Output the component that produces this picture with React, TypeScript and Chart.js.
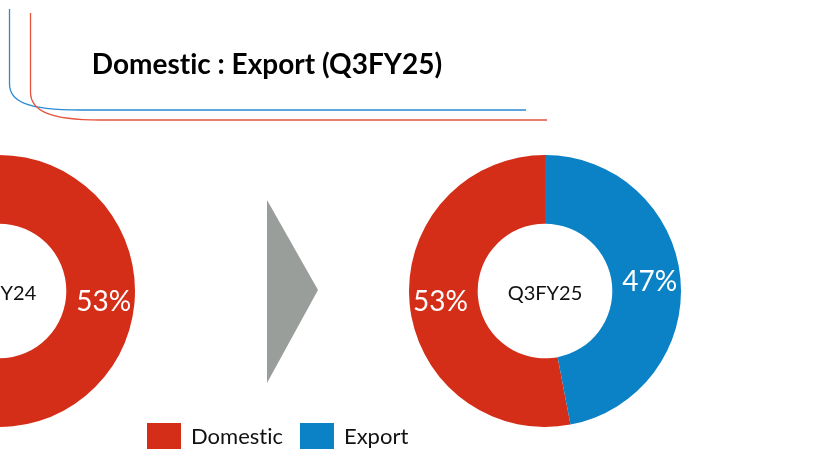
import React, { useEffect, useRef } from "react";
import { Chart, registerables } from "chart.js";

Chart.register(...registerables);

const titleText = "Domestic : Export (Q3FY25)";
const categories = ["Domestic", "Export"];
const periods = ["Q3FY24", "Q3FY25"];
const shareQ3FY24 = [53, 47];
const shareQ3FY25 = [53, 47];
const sliceColors = ["#D52E18", "#0B82C6"];

const FONT = "Lato, 'Open Sans', sans-serif";

function noLigatures(ctx: any) {
  try {
    ctx.textRendering = "optimizeSpeed";
    ctx.fontVariantLigatures = "none";
  } catch (e) {}
}

function labelPlugin(period: string) {
  return {
    id: "labels_" + period,
    afterDatasetsDraw(chart: any) {
      const ctx = chart.ctx;
      const meta = chart.getDatasetMeta(0);
      const ds = chart.data.datasets[0];
      ctx.save();
      noLigatures(ctx);
      meta.data.forEach((arc: any, i: number) => {
        const mid = (arc.startAngle + arc.endAngle) / 2;
        const r = arc.innerRadius + (arc.outerRadius - arc.innerRadius) * 0.55;
        const x = arc.x + Math.cos(mid) * r;
        const y = arc.y + Math.sin(mid) * r;
        ctx.fillStyle = "#ffffff";
        ctx.font = `400 28px ${FONT}`;
        ctx.textAlign = "center";
        ctx.textBaseline = "middle";
        ctx.fillText(ds.data[i] + "%", x, y + 1);
      });
      const a0 = meta.data[0];
      if (a0) {
        ctx.fillStyle = "#111111";
        ctx.font = `400 20px ${FONT}`;
        ctx.textAlign = "center";
        ctx.textBaseline = "middle";
        ctx.fillText(period, a0.x, a0.y + 3);
      }
      ctx.restore();
    },
  };
}

const decorPlugin = {
  id: "decor",
  afterDraw(chart: any) {
    const ctx = chart.ctx;
    ctx.save();
    noLigatures(ctx);
    // decorative title brackets
    ctx.lineWidth = 1.3;
    ctx.strokeStyle = "#2A8BD3";
    ctx.beginPath();
    ctx.moveTo(9.5, 9);
    ctx.lineTo(9.5, 84);
    ctx.bezierCurveTo(9.5, 101, 26, 110, 80, 110);
    ctx.lineTo(526, 110);
    ctx.stroke();
    ctx.strokeStyle = "#E5533F";
    ctx.beginPath();
    ctx.moveTo(30.5, 13);
    ctx.lineTo(30.5, 92);
    ctx.bezierCurveTo(30.5, 111, 50, 120, 100, 120);
    ctx.lineTo(547, 120);
    ctx.stroke();
    // title
    ctx.fillStyle = "#000000";
    ctx.font = `700 28px ${FONT}`;
    ctx.textAlign = "center";
    ctx.textBaseline = "alphabetic";
    ctx.fillText(titleText, 267, 74);
    // arrow
    ctx.fillStyle = "#9A9E9A";
    ctx.beginPath();
    ctx.moveTo(267, 200);
    ctx.lineTo(318, 290);
    ctx.lineTo(267, 383);
    ctx.closePath();
    ctx.fill();
    // legend
    ctx.font = `400 22px ${FONT}`;
    ctx.textAlign = "left";
    ctx.textBaseline = "middle";
    let x = 147;
    const labels = chart.data.labels as string[];
    const colors = chart.data.datasets[0].backgroundColor as string[];
    labels.forEach((lab, i) => {
      ctx.fillStyle = colors[i];
      ctx.fillRect(x, 423, 34, 26);
      ctx.fillStyle = "#111111";
      ctx.fillText(lab, x + 44, 437);
      x += 44 + ctx.measureText(lab).width + 17;
    });
    ctx.restore();
  },
};

function makeDonut(
  canvas: HTMLCanvasElement,
  data: number[],
  period: string,
  padding: { left: number; right: number; top: number; bottom: number },
  rotation: number,
  extra: any[]
) {
  return new Chart(canvas, {
    type: "doughnut",
    data: {
      labels: categories,
      datasets: [
        {
          data,
          backgroundColor: sliceColors,
          borderWidth: 0,
        },
      ],
    },
    options: {
      responsive: false,
      maintainAspectRatio: false,
      animation: false,
      events: [],
      cutout: "49.5%",
      rotation,
      layout: { padding },
      plugins: {
        legend: { display: false },
        tooltip: { enabled: false },
        title: { display: false },
      },
    },
    plugins: [labelPlugin(period), ...extra],
  } as any);
}

export default function App() {
  const leftRef = useRef<HTMLCanvasElement>(null);
  const rightRef = useRef<HTMLCanvasElement>(null);

  useEffect(() => {
    document.body.style.margin = "0";
    const total25 = shareQ3FY25[0] + shareQ3FY25[1];
    const right = makeDonut(
      rightRef.current!,
      shareQ3FY25,
      periods[1],
      { left: 409, right: 132, top: 155, bottom: 39 },
      (shareQ3FY25[1] / total25) * 360,
      [decorPlugin]
    );
    const left = makeDonut(
      leftRef.current!,
      shareQ3FY24,
      periods[0],
      { left: 63, right: 65, top: 155, bottom: 39 },
      0,
      []
    );
    return () => {
      right.destroy();
      left.destroy();
    };
  }, []);

  return (
    <div
      style={{
        position: "fixed",
        left: 0,
        top: 0,
        width: 813,
        height: 466,
        overflow: "hidden",
        background: "#ffffff",
      }}
    >
      <canvas
        ref={rightRef}
        width={813}
        height={466}
        style={{ position: "absolute", left: 0, top: 0, width: 813, height: 466 }}
      />
      <canvas
        ref={leftRef}
        width={400}
        height={466}
        style={{ position: "absolute", left: -200, top: 0, width: 400, height: 466 }}
      />
    </div>
  );
}
